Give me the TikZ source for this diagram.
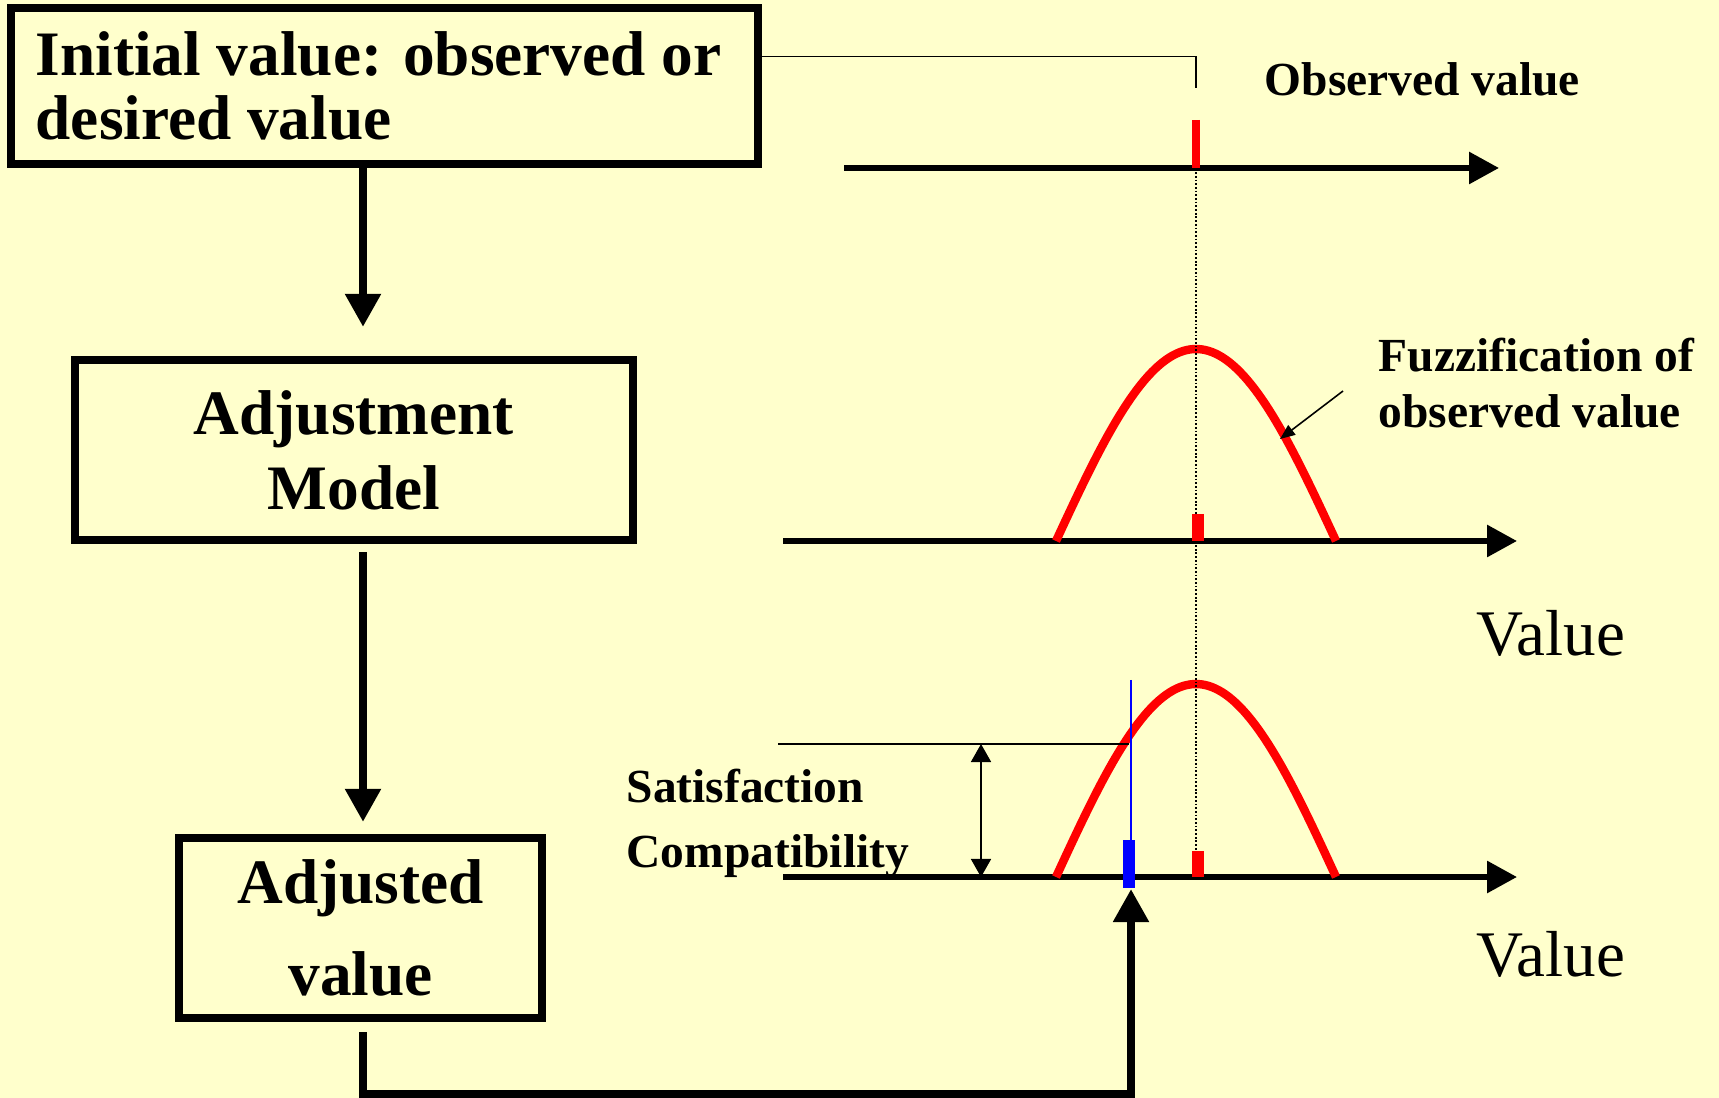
\documentclass[tikz,border=0pt]{standalone}
\usepackage{fontspec}
\setmainfont{Liberation Serif}
\usetikzlibrary{arrows.meta,calc}
\definecolor{paper}{HTML}{FFFFCC}
\newcommand\boxfont[1]{\fontsize{18}{#1}\selectfont\bfseries}
\newcommand\notefont{\fontsize{13.5}{15.9}\selectfont\bfseries}
\newcommand\notefontwide{\fontsize{13.5}{18.7}\selectfont\bfseries}
\newcommand\boxrow[1]{\makebox[6.97cm][l]{#1}}

\tikzset{
  box/.style={draw, line width=2.3pt, inner sep=0pt, outer sep=0pt, align=center},
  flow/.style={line width=2.3pt, -{Triangle[length=0.33cm,width=0.34cm]}},
  axisline/.style={line width=1.7pt, -{Triangle[length=0.3cm,width=0.31cm]}},
  fuzzy/.style={red, line width=2.4pt},
  marker/.style={line width=#1},
  guide/.style={line width=0.45pt},
  note/.style={inner sep=0pt, align=left, font=\notefont},
}

\begin{document}
\begin{tikzpicture}[x=0.01cm, y=-0.01cm]
\fill[paper] (0,0) rectangle (1719,1098);
\useasboundingbox (0,0) rectangle (1719,1098);

% left column: boxes
\node[box, minimum width=7.47cm, minimum height=1.56cm, align=left,
      font=\boxfont{18.2pt}] (initial) at (384.5,86)
      {\boxrow{Initial value: observed or}\\\boxrow{desired value}};
\node[box, minimum width=5.58cm, minimum height=1.8cm, font=\boxfont{21.3pt}]
      (adjust) at (354,450) {Adjustment\\Model};
\node[box, minimum width=3.63cm, minimum height=1.8cm, font=\boxfont{26.4pt}]
      (adjusted) at (360.5,928) {Adjusted\\value};
\coordinate (spine) at (363,0);

% value axes
\coordinate (ax1) at (844,168);  \coordinate (ax1end) at (1499,168);
\coordinate (ax2) at (783,541);  \coordinate (ax2end) at (1517,541);
\coordinate (ax3) at (783,877);  \coordinate (ax3end) at (1517,877);
\draw[axisline] (ax1) -- (ax1end);
\draw[axisline] (ax2) -- (ax2end);
\draw[axisline] (ax3) -- (ax3end);

% membership functions
\draw[fuzzy] plot[domain=-1:1, samples=80] ({1196+140*\x},{541-192*cos(90*\x)});
\draw[fuzzy] plot[domain=-1:1, samples=80] ({1196+140*\x},{877-193*cos(90*\x)});

% observed value guide
\coordinate (obsdrop) at (1196,88);
\draw[guide] ($(initial.north east)!0.31!(initial.south east)$) -| (obsdrop);
\draw[line width=0.4pt, dash pattern=on 0.5pt off 0.55pt] (1196,150) -- (1196,851);
\draw[red, marker=0.08cm] (1196,120) -- (1196,168);
\draw[red, marker=0.12cm] (1198,514) -- (1198,541);
\draw[red, marker=0.12cm] (1198,851) -- (1198,877);

% satisfaction level
\coordinate (satleft) at (778,744);
\coordinate (satright) at (1129,744);
\coordinate (satup) at (981,744);
\coordinate (satdown) at (981,877);
\draw[guide] (satleft) -- (satright);
\draw[guide, {Triangle[length=0.18cm,width=0.2cm]}-{Triangle[length=0.18cm,width=0.2cm]}] (satup) -- (satdown);
\draw[blue, line width=0.35pt] (1131,680) -- (1131,840);
\draw[blue, marker=0.12cm] (1129,840) -- (1129,888);
\coordinate (bluetick) at (1131,889);

% flow arrows
\draw[flow] (initial.south -| spine) -- ($(adjust.north -| spine)+(0,-33)$);
\draw[flow] ($(adjust.south -| spine)+(0,12)$) -- ($(adjusted.north -| spine)+(0,-16)$);
\draw[flow] ($(adjusted.south -| spine)+(0,14)$) -- ++(0,62) -| (bluetick);

% fuzzification pointer
\coordinate (fuzzfrom) at (1343,391);
\coordinate (fuzzto) at (1280,439);
\draw[guide, -{Triangle[length=0.15cm,width=0.12cm]}] (fuzzfrom) -- (fuzzto);

% labels
\node[anchor=base west, inner sep=0pt, font=\notefont] (obslabel) at (1264,96) {Observed value};
\node[note, anchor=north west] (fuzzlabel) at (1378,337) {Fuzzification of\\observed value};
\node[note, anchor=north west, font=\notefontwide] (satlabel) at (626,768) {Satisfaction\\Compatibility};
\node[anchor=base west, inner sep=0pt, font=\fontsize{18.5}{20}\selectfont] (value2) at (1476,656) {Value};
\node[anchor=base west, inner sep=0pt, font=\fontsize{18.5}{20}\selectfont] (value3) at (1476,976) {Value};
\end{tikzpicture}
\end{document}
